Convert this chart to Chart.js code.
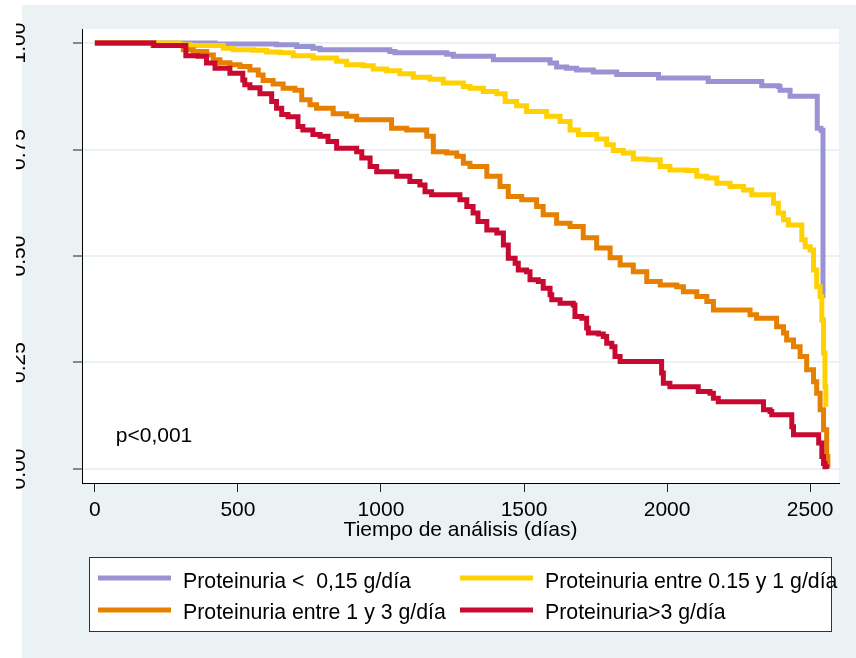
<!DOCTYPE html>
<html>
<head>
<meta charset="utf-8">
<script src="https://cdn.jsdelivr.net/npm/chart.js@4"></script>
<style>
  html, body { margin: 0; padding: 0; background: #fff; }
  #wrap { position: absolute; left: 0; top: 0; width: 856px; height: 658px; }
</style>
</head>
<body>
<div id="wrap"><canvas id="myChart" width="856" height="658"></canvas></div>
<script>
//tick values and labels
var xTicks = [0, 500, 1000, 1500, 2000, 2500]
var yTicks = [0, 0.25, 0.5, 0.75, 1]
var yTickLabels = ['0.00', '0.25', '0.50', '0.75', '1.00']

//group names (legend)
var groups = ['Proteinuria <  0,15 g/día', 'Proteinuria entre 0.15 y 1 g/día', 'Proteinuria entre 1 y 3 g/día', 'Proteinuria>3 g/día']
var colors = ['#9a93d3', '#ffd100', '#e58000', '#c80a32']

//Kaplan-Meier steps: time (days) and survival
var tLow = [0, 420, 635, 705, 762, 787, 1031, 1049, 1230, 1253, 1393, 1591, 1614, 1649, 1684, 1742, 1824, 1970, 2144, 2331, 2389, 2395, 2430, 2525, 2538, 2545]
var sLow = [1, 0.998, 0.996, 0.992, 0.988, 0.984, 0.980, 0.977, 0.974, 0.969, 0.961, 0.953, 0.944, 0.941, 0.937, 0.932, 0.926, 0.918, 0.910, 0.900, 0.898, 0.889, 0.875, 0.800, 0.795, 0.401]

var tMid = [0, 297, 332, 449, 484, 553, 600, 647, 693, 763, 845, 880, 938, 973, 1020, 1066, 1113, 1171, 1218, 1288,
            1311, 1358, 1405, 1434, 1474, 1509, 1579, 1626, 1661, 1690, 1754, 1789, 1812, 1847, 1882, 1929, 1976, 2010, 2069, 2104,
            2139, 2174, 2220, 2267, 2296, 2372, 2389, 2407, 2424, 2471, 2483, 2500, 2512, 2523, 2535, 2541, 2547, 2552, 2555]
var sMid = [1, 0.996, 0.994, 0.988, 0.984, 0.983, 0.979, 0.977, 0.970, 0.965, 0.957, 0.949, 0.947, 0.939, 0.935, 0.928, 0.920, 0.915, 0.906, 0.898,
            0.894, 0.886, 0.881, 0.863, 0.853, 0.839, 0.828, 0.816, 0.796, 0.785, 0.775, 0.761, 0.748, 0.742, 0.728, 0.726, 0.710, 0.702, 0.701, 0.687,
            0.683, 0.671, 0.663, 0.655, 0.644, 0.624, 0.601, 0.585, 0.573, 0.538, 0.522, 0.514, 0.467, 0.428, 0.405, 0.350, 0.272, 0.193, 0.146]

var tHigh = [0, 203, 309, 344, 391, 414, 437, 472, 507, 542, 571, 588, 623, 658, 699, 723, 752, 775, 833, 880,
             915, 1037, 1090, 1160, 1183, 1230, 1265, 1288, 1311, 1370, 1416, 1445, 1492, 1544, 1567, 1614, 1661, 1707, 1754, 1801,
             1836, 1882, 1929, 1976, 2034, 2057, 2104, 2139, 2162, 2290, 2313, 2383, 2407, 2418, 2442, 2465, 2488, 2512, 2523, 2535,
             2547, 2558, 2562]
var sHigh = [1, 0.994, 0.984, 0.980, 0.972, 0.961, 0.954, 0.949, 0.945, 0.937, 0.925, 0.912, 0.904, 0.894, 0.889, 0.867, 0.855, 0.847, 0.834, 0.828,
             0.820, 0.800, 0.796, 0.781, 0.745, 0.742, 0.734, 0.718, 0.710, 0.687, 0.663, 0.640, 0.632, 0.616, 0.597, 0.577, 0.569, 0.543, 0.519, 0.496,
             0.479, 0.463, 0.440, 0.432, 0.428, 0.416, 0.405, 0.393, 0.373, 0.362, 0.354, 0.334, 0.319, 0.303, 0.287, 0.264, 0.233, 0.205, 0.178, 0.139,
             0.092, 0.029, 0.003]

var tNeph = [0, 206, 318, 360, 390, 420, 472, 517, 524, 542, 577, 618, 635, 653, 675, 710, 727, 762, 787, 815,
             845, 915, 933, 962, 985, 1055, 1101, 1136, 1154, 1177, 1276, 1300, 1322, 1339, 1370, 1405, 1428, 1445, 1469, 1480,
             1509, 1521, 1550, 1567, 1591, 1597, 1626, 1672, 1678, 1702, 1719, 1725, 1760, 1777, 1789, 1807, 1818, 1836, 1981, 1987,
             2010, 2109, 2150, 2162, 2179, 2337, 2360, 2366, 2436, 2442, 2530, 2541, 2547, 2552, 2558]
var sNeph = [1, 0.994, 0.970, 0.969, 0.953, 0.941, 0.929, 0.913, 0.902, 0.895, 0.881, 0.863, 0.847, 0.832, 0.827, 0.804, 0.796, 0.785, 0.781, 0.769,
             0.753, 0.745, 0.730, 0.710, 0.698, 0.687, 0.675, 0.667, 0.651, 0.644, 0.632, 0.616, 0.601, 0.581, 0.561, 0.554, 0.526, 0.495, 0.483, 0.467,
             0.463, 0.444, 0.440, 0.424, 0.409, 0.397, 0.389, 0.385, 0.358, 0.354, 0.331, 0.319, 0.317, 0.311, 0.295, 0.287, 0.264, 0.252, 0.225, 0.201,
             0.193, 0.182, 0.178, 0.166, 0.158, 0.139, 0.135, 0.127, 0.099, 0.080, 0.061, 0.029, 0.013, 0.005, 0]

var pText = 'p<0,001'
var pAt = {x: 73, y: 0.063} //where the p value sits, in data units

function zip(t, s) {
  var out = []
  for (var i = 0; i < Math.min(t.length, s.length); i++) out.push({x: t[i], y: s[i]})
  return out
}

var FONT = "'Liberation Sans', Arial, sans-serif"
Chart.defaults.font.family = FONT
Chart.defaults.color = '#000'

//background, clipped y labels, p value and boxed legend
var decor = {
  id: 'decor',
  beforeDraw: function(chart) {
    var c = chart.ctx, a = chart.chartArea
    c.save()
    c.fillStyle = '#eaf2f3'
    c.fillRect(22, 5, 834, 653)
    c.fillStyle = '#fff'
    c.fillRect(a.left, a.top, a.right - a.left, a.bottom - a.top)
    c.restore()
  },
  afterDraw: function(chart) {
    var c = chart.ctx
    var ys = chart.scales.y, xs = chart.scales.x
    //y labels, rotated and cut off on the left like the picture
    c.save()
    c.beginPath()
    c.rect(16, 0, 70, 658)
    c.clip()
    c.font = '21px ' + FONT
    c.fillStyle = '#000'
    c.textAlign = 'center'
    c.textBaseline = 'alphabetic'
    yTicks.forEach(function(v, i) {
      c.save()
      c.translate(25, ys.getPixelForValue(v))
      c.rotate(-Math.PI / 2)
      c.fillText(yTickLabels[i], 0, 0)
      c.restore()
    })
    c.restore()

    //p value
    c.save()
    c.font = '21px ' + FONT
    c.fillStyle = '#000'
    c.textBaseline = 'alphabetic'
    c.fillText(pText, xs.getPixelForValue(pAt.x), ys.getPixelForValue(pAt.y))
    c.restore()

    //legend box
    c.save()
    c.fillStyle = '#fff'
    c.fillRect(89.5, 557.5, 742, 74)
    c.strokeStyle = '#333'
    c.lineWidth = 1
    c.strokeRect(89.5, 557.5, 742, 74)
    c.font = '21.3px ' + FONT
    c.textBaseline = 'alphabetic'
    var colX = [98, 460], rowY = [578, 610], baseY = [588, 619]
    chart.data.datasets.forEach(function(ds, i) {
      var col = i % 2, row = Math.floor(i / 2)
      c.strokeStyle = ds.borderColor
      c.lineWidth = 5
      c.beginPath()
      c.moveTo(colX[col], rowY[row])
      c.lineTo(colX[col] + 73, rowY[row])
      c.stroke()
      c.fillStyle = '#000'
      c.fillText(ds.label, colX[col] + 85, baseY[row])
    })
    c.restore()
  }
}

var ctx = document.getElementById('myChart').getContext('2d')
var myChart = new Chart(ctx, {
  type: 'line',
  data: {
    datasets: [
      {label: groups[0], data: zip(tLow, sLow), borderColor: colors[0], order: 3},
      {label: groups[1], data: zip(tMid, sMid), borderColor: colors[1], order: 2},
      {label: groups[2], data: zip(tHigh, sHigh), borderColor: colors[2], order: 1},
      {label: groups[3], data: zip(tNeph, sNeph), borderColor: colors[3], order: 0}
    ]
  },
  options: {
    responsive: false,
    animation: false,
    devicePixelRatio: 1,
    layout: {padding: {left: 0, top: 29, right: 17, bottom: 115}},
    elements: {
      line: {borderWidth: 5, stepped: true, tension: 0, fill: false, borderCapStyle: 'butt', borderJoinStyle: 'miter'},
      point: {radius: 0, hoverRadius: 0}
    },
    plugins: {
      legend: {display: false},
      tooltip: {enabled: false}
    },
    scales: {
      x: {
        type: 'linear',
        position: 'bottom',
        min: -45,
        max: 2601,
        afterBuildTicks: function(s) { s.ticks = xTicks.map(function(v) { return {value: v} }) },
        afterFit: function(s) { s.height = 60 },
        ticks: {
          font: {size: 21}, color: '#000', padding: 6, maxRotation: 0,
          callback: function(v) { return String(v) } //no thousands comma
        },
        grid: {drawOnChartArea: false, tickLength: 9, tickColor: '#222', tickWidth: 1},
        border: {display: true, color: '#000', width: 1},
        title: {display: true, text: 'Tiempo de análisis (días)', font: {size: 21}, color: '#000', padding: {top: 0, bottom: 0}}
      },
      y: {
        type: 'linear',
        min: -0.033,
        max: 1.033,
        afterBuildTicks: function(s) { s.ticks = yTicks.map(function(v) { return {value: v} }) },
        afterFit: function(s) { s.width = 82 },
        ticks: {display: false},
        grid: {color: '#eaf2f3', lineWidth: 2, tickLength: 9, tickColor: '#222', tickWidth: 1},
        border: {display: true, color: '#000', width: 1}
      }
    }
  },
  plugins: [decor]
})
</script>
</body>
</html>
